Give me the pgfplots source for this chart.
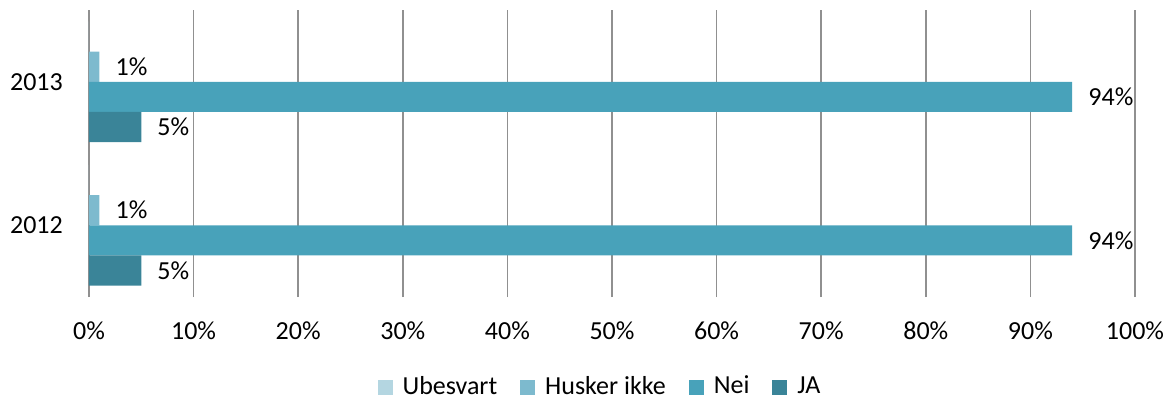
\documentclass[border=0pt]{standalone}
\usepackage{pgfplots}
\pgfplotsset{compat=1.18}
\usepackage{fontspec}
\setmainfont{Carlito}
\definecolor{cUb}{HTML}{B4D6E1}
\definecolor{cHu}{HTML}{7DBACE}
\definecolor{cNe}{HTML}{48A2BA}
\definecolor{cJa}{HTML}{3A8498}
\definecolor{cGrid}{HTML}{909090}
\pgfplotsset{mylegend/.style={legend image code/.code={\fill[#1] (0bp,-7.5bp) rectangle (15bp,7.5bp);}}}
\begin{document}
\fontsize{26bp}{31bp}\selectfont
\begin{tikzpicture}
\path[use as bounding box] (-89bp,-103bp) rectangle (1084bp,297bp);
\begin{axis}[
  at={(0,0)}, anchor=south west,
  scale only axis, width=1046bp, height=287bp,
  xmin=0, xmax=100, ymin=0.5, ymax=2.5,
  xbar, bar width=0.21,
  /pgf/number format/assume math mode=true,
  xtick={0,10,...,100},
  xticklabel={\pgfmathprintnumber{\tick}\%},
  ytick={1,2}, yticklabels={2012,2013},
  xmajorgrids, major grid style={cGrid, line width=1.7bp},
  axis line style={draw=none},
  major tick length=0pt,
  xticklabel style={anchor=north, inner sep=0pt, yshift=-25bp},
  yticklabel style={anchor=east, inner sep=0pt, xshift=-26bp},
  point meta=x,
  legend columns=4,
  legend style={draw=none, fill=none, at={(0.4885,-0.3136)}, anchor=center,
    /tikz/every odd column/.append style={column sep=8bp},
    /tikz/every even column/.append style={column sep=21bp}},
]
\addplot[fill=cUb, draw=none, bar shift=0.315, mylegend] coordinates {(0,1) (0,2)};
\addlegendentry{Ubesvart}
\addplot[fill=cHu, draw=none, bar shift=0.105, mylegend,
  nodes near coords={\pgfmathprintnumber\pgfplotspointmeta\%},
  every node near coord/.append style={anchor=west, inner sep=0pt, xshift=16bp, text=black}] coordinates {(1,1) (1,2)};
\addlegendentry{Husker ikke}
\addplot[fill=cNe, draw=none, bar shift=-0.105, mylegend,
  nodes near coords={\pgfmathprintnumber\pgfplotspointmeta\%},
  every node near coord/.append style={anchor=west, inner sep=0pt, xshift=16bp, text=black}] coordinates {(94,1) (94,2)};
\addlegendentry{Nei}
\addplot[fill=cJa, draw=none, bar shift=-0.315, mylegend,
  nodes near coords={\pgfmathprintnumber\pgfplotspointmeta\%},
  every node near coord/.append style={anchor=west, inner sep=0pt, xshift=16bp, text=black}] coordinates {(5,1) (5,2)};
\addlegendentry{JA}
\end{axis}
\end{tikzpicture}
\end{document}
